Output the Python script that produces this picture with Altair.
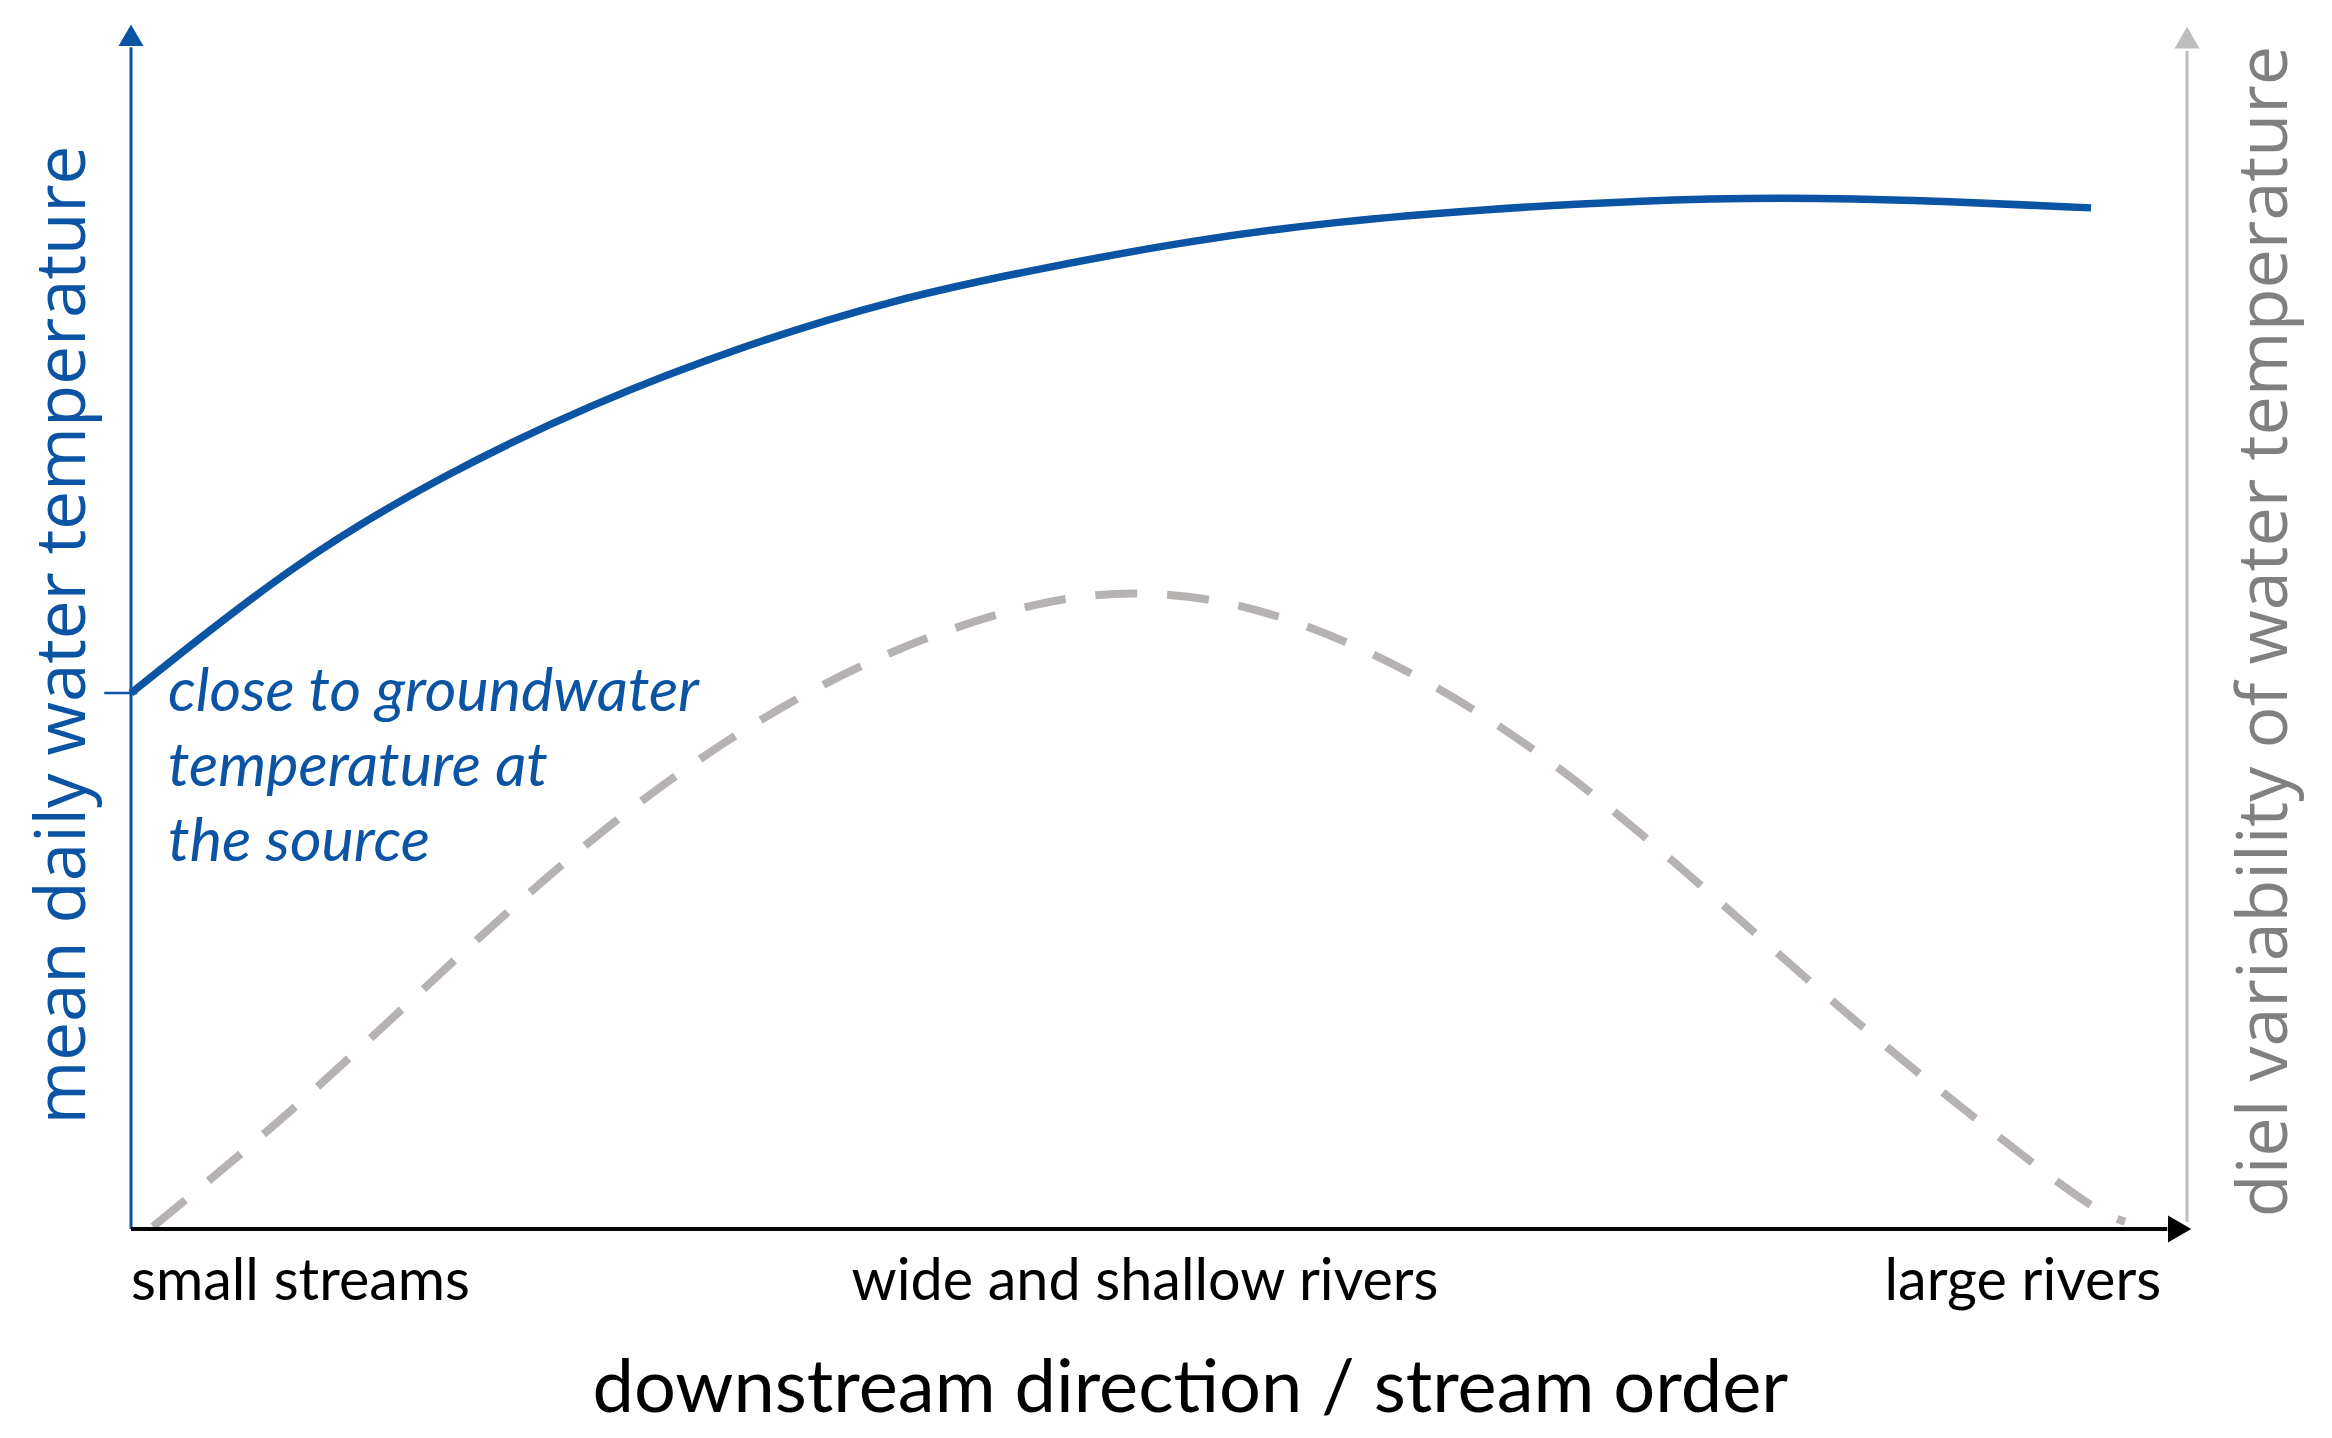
import altair as alt
import pandas as pd

# ---- data (x: downstream position 0-100, y: relative units 0-100)
position = [0.0, 8.05, 15.28, 22.51, 29.74, 36.92, 44.15, 51.38, 58.56, 65.79, 73.02, 80.25, 87.43, 95.10]
mean_temp = [44.4, 55.4, 62.6, 68.5, 73.2, 77.0, 79.6, 81.9, 83.5, 84.5, 85.2, 85.5, 85.2, 84.6]

var_position = [1.07, 8.05, 15.28, 22.51, 29.74, 36.92, 44.15, 49.20, 54.97, 62.20, 69.43, 76.61, 83.84, 91.07, 95.39, 96.75]
diel_var = [0.2, 10.0, 21.7, 32.8, 41.7, 48.2, 52.2, 53.0, 51.6, 46.4, 38.4, 27.9, 16.8, 7.0, 1.4, 0.6]

x_tick_labels = ["small streams", "wide and shallow rivers", "large rivers"]
x_title = "downstream direction / stream order"
y_left_title = "mean daily water temperature"
y_right_title = "diel variability of water temperature"
annotation = ["close to groundwater", "temperature at", "the source"]

BLUE = "#0b53a3"
GRAY_LINE = "#b6b2b2"
GRAY_AXIS = "#bdbdbd"
GRAY_TEXT = "#808080"

xs = alt.Scale(domain=[0, 100], range=[123, 2184])
ys = alt.Scale(domain=[0, 100], range=[1221, 14])

one = pd.DataFrame({"k": [0]})


def X(v):
    return alt.XDatum(v, scale=xs, axis=None, type="quantitative")


def Y(v):
    return alt.YDatum(v, scale=ys, axis=None, type="quantitative")


blue_df = pd.DataFrame({"position": position, "mean_temp": mean_temp})
gray_df = pd.DataFrame({"position": var_position, "diel_var": diel_var})

mean_line = alt.Chart(blue_df).mark_line(
    color=BLUE, strokeWidth=7.5, interpolate="basis"
).encode(
    x=alt.X("position:Q", scale=xs, axis=None),
    y=alt.Y("mean_temp:Q", scale=ys, axis=None),
)

var_line = alt.Chart(gray_df).mark_line(
    color=GRAY_LINE, strokeWidth=8, strokeDash=[42, 30], interpolate="basis"
).encode(
    x=alt.X("position:Q", scale=xs, axis=None),
    y=alt.Y("diel_var:Q", scale=ys, axis=None),
)

# axes drawn as rules + arrow heads
left_axis = alt.Chart(one).mark_rule(color=BLUE, strokeWidth=3).encode(
    x=X(0), y=Y(0), y2=alt.Y2Datum(97.9)
)
left_head = alt.Chart(one).mark_point(
    shape="triangle-up", filled=True, size=625, color=BLUE, opacity=1, strokeWidth=0
).encode(x=X(0), y=Y(98.9))
left_tick = alt.Chart(one).mark_rule(color=BLUE, strokeWidth=2.5).encode(
    x=X(-1.3), x2=alt.X2Datum(0.3), y=Y(44.4)
)

right_axis = alt.Chart(one).mark_rule(color=GRAY_AXIS, strokeWidth=3).encode(
    x=X(99.76), y=Y(0.6), y2=alt.Y2Datum(97.6)
)
right_head = alt.Chart(one).mark_point(
    shape="triangle-up", filled=True, size=625, color=GRAY_AXIS, opacity=1, strokeWidth=0
).encode(x=X(99.76), y=Y(98.7))

bottom_axis = alt.Chart(one).mark_rule(color="black", strokeWidth=4).encode(
    x=X(0), x2=alt.X2Datum(98.8), y=Y(0)
)
bottom_head = alt.Chart(one).mark_point(
    shape="triangle-right", filled=True, size=720, color="black", opacity=1, strokeWidth=0
).encode(x=X(99.4), y=Y(0))

# texts
lbl_font = "Lato"
lbl_size = 57.5

lbl_small = alt.Chart(one).mark_text(
    font=lbl_font, fontSize=lbl_size, align="left", baseline="alphabetic", color="black"
).encode(x=X(0), y=Y(-5.9), text=alt.value(x_tick_labels[0]))
lbl_mid = alt.Chart(one).mark_text(
    font=lbl_font, fontSize=lbl_size, align="center", baseline="alphabetic", color="black"
).encode(x=X(49.2), y=Y(-5.9), text=alt.value(x_tick_labels[1]))
lbl_large = alt.Chart(one).mark_text(
    font=lbl_font, fontSize=lbl_size, align="right", baseline="alphabetic", color="black"
).encode(x=X(98.5), y=Y(-5.9), text=alt.value(x_tick_labels[2]))

xtitle = alt.Chart(one).mark_text(
    font=lbl_font, fontSize=74, align="center", baseline="alphabetic", color="black"
).encode(x=X(51.4), y=Y(-15.2), text=alt.value(x_title))

ltitle = alt.Chart(one).mark_text(
    font="Open Sans", fontSize=69, angle=270, align="center", baseline="alphabetic", color=BLUE
).encode(x=X(-2.25), y=Y(49.2), text=alt.value(y_left_title))

rtitle = alt.Chart(one).mark_text(
    font="Open Sans", fontSize=70, angle=270, align="center", baseline="alphabetic", color=GRAY_TEXT
).encode(x=X(104.6), y=Y(49.5), text=alt.value(y_right_title))

note = alt.Chart(one).mark_text(
    font=lbl_font, fontSize=61, fontStyle="italic", align="left", baseline="alphabetic",
    color=BLUE, lineHeight=75
).encode(x=X(1.8), y=Y(42.9), text=alt.value(annotation))

chart = alt.layer(
    var_line, mean_line,
    left_axis, left_head, left_tick,
    right_axis, right_head,
    bottom_axis, bottom_head,
    lbl_small, lbl_mid, lbl_large, xtitle, ltitle, rtitle, note,
).properties(
    width=2316, height=1422, padding=0,
    autosize=alt.AutoSizeParams(type="none"),
).configure_view(strokeWidth=0)

chart.save("out.html", embed_options={"renderer": "svg", "actions": False})
